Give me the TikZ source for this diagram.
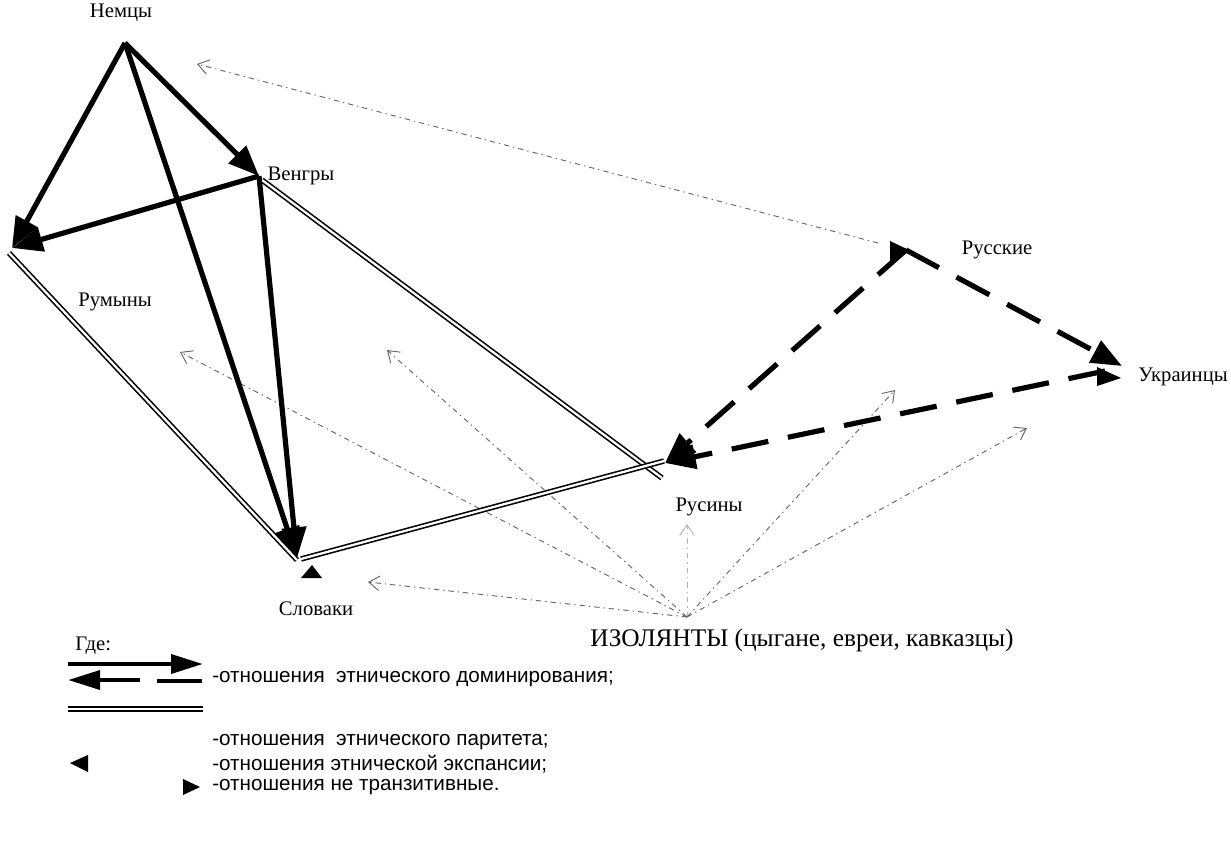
\documentclass[tikz,border=0pt]{standalone}
\usepackage{fontspec}
\setmainfont{Liberation Serif}
\newfontfamily\legfont{Liberation Sans}
\usetikzlibrary{arrows.meta}
\begin{document}
\begin{tikzpicture}[x=0.75pt,y=-0.75pt,
  dom/.style={line width=3.9pt,-{Triangle[length=23pt,width=18pt]}},
  domd/.style={line width=3.9pt,dash pattern=on 28pt off 15pt,-{Triangle[length=23pt,width=18pt]}},
  par/.style={draw=black,double=white,line width=1.2pt,double distance=1.7pt},
  iso/.style={draw=black!60,line width=0.7pt,dash pattern=on 4pt off 3pt on 1pt off 3pt,-{Straight Barb[length=8pt,width=11pt,line width=0.7pt]}},
  lab/.style={font=\fontsize{15.5}{17}\selectfont,inner sep=0pt},
  leg/.style={font=\legfont\fontsize{15.5}{17}\selectfont,inner sep=0pt,anchor=west},
  legdom/.style={line width=3.4pt,-{Triangle[length=24pt,width=14pt]}},
  marker/.style={fill=black}
]
\useasboundingbox (0,0) rectangle (1231,843);

% main points
\coordinate (nem) at (125,43);
\coordinate (ven) at (259,176);
\coordinate (rum) at (12,248);
\coordinate (slo) at (297,558);
\coordinate (rus) at (665,463);
\coordinate (rss) at (906,250);
\coordinate (ukr) at (1122,366);
\coordinate (ukrL) at (1105,371);
\coordinate (izo) at (687,617);

% parity line ends
\coordinate (rumP) at (9,253);
\coordinate (sloP) at (297,560);
\coordinate (sloQ) at (301,559);
\coordinate (venP) at (262,180);
\coordinate (rusP1) at (662,478);
\coordinate (rusP2) at (664,461);

% labels
\node[lab] (lnem) at (121,13) {Немцы};
\node[lab] (lven) at (301,176) {Венгры};
\node[lab] (lrum) at (115,302) {Румыны};
\node[lab] (lslo) at (316,609) {Словаки};
\node[lab] (lrus) at (709,507) {Русины};
\node[lab] (lrss) at (997,250) {Русские};
\node[lab] (lukr) at (1183,377) {Украинцы};
\node[inner sep=0pt,font=\fontsize{19}{21}\selectfont] (lizo) at (802,640) {ИЗОЛЯНТЫ (цыгане, евреи, кавказцы)};

% isolants dotted arrows
\coordinate (i1) at (180,352);
\coordinate (i2) at (387,350);
\coordinate (i3) at (368,582);
\coordinate (i4) at (687,524);
\coordinate (i5) at (895,390);
\coordinate (i6) at (1027,428);
\coordinate (rssD) at (878,243);
\coordinate (nemD) at (197,64);
\draw[iso] (izo) -- (i1);
\draw[iso] (izo) -- (i2);
\draw[iso] (izo) -- (i3);
\draw[iso,draw=black!30] (izo) -- (i4);
\draw[iso] (izo) -- (i5);
\draw[iso] (izo) -- (i6);
\draw[iso] (rssD) -- (nemD);

% parity
\draw[par] (rumP) -- (sloP);
\draw[par] (venP) -- (rusP1);
\draw[par] (sloQ) -- (rusP2);

% domination (solid)
\draw[dom] (nem) -- (rum);
\draw[dom] (nem) -- (ven);
\draw[dom] (nem) -- (slo);
\draw[dom] (ven) -- (rum);
\draw[dom] (ven) -- (slo);

% domination (dashed)
\draw[domd] (rss) -- (rus);
\draw[domd] (rss) -- (ukr);
\draw[domd] (ukrL) -- (rus);

% markers
\fill[marker] (890,241) -- (909,250) -- (890,262) -- cycle;
\fill[marker] (1097,367) -- (1121,378) -- (1097,386) -- cycle;
\fill[marker] (301,578) -- (312,565) -- (322,578) -- cycle;

% legend
\node[lab,anchor=west] (gde) at (75,646) {Где:};
\coordinate (l1a) at (68,664);
\coordinate (l1b) at (203,664);
\draw[legdom] (l1a) -- (l1b);
\coordinate (l2a) at (140,680);
\coordinate (l2b) at (68,680);
\draw[legdom] (l2a) -- (l2b);
\coordinate (l2c) at (157,681);
\coordinate (l2d) at (202,681);
\draw[line width=3.4pt] (l2c) -- (l2d);
\node[leg] (t1) at (212,679) {-отношения\ \ этнического доминирования;};
\coordinate (l3a) at (68,709);
\coordinate (l3b) at (203,709);
\draw[par] (l3a) -- (l3b);
\node[leg] (t2) at (212,742) {-отношения\ \ этнического паритета;};
\fill[marker] (70,763) -- (88,755) -- (88,772) -- cycle;
\node[leg] (t3) at (212,764) {-отношения этнической экспансии;};
\fill[marker] (183,779) -- (200,787) -- (183,795) -- cycle;
\node[leg] (t4) at (212,787) {-отношения не транзитивные.};
\end{tikzpicture}
\end{document}
